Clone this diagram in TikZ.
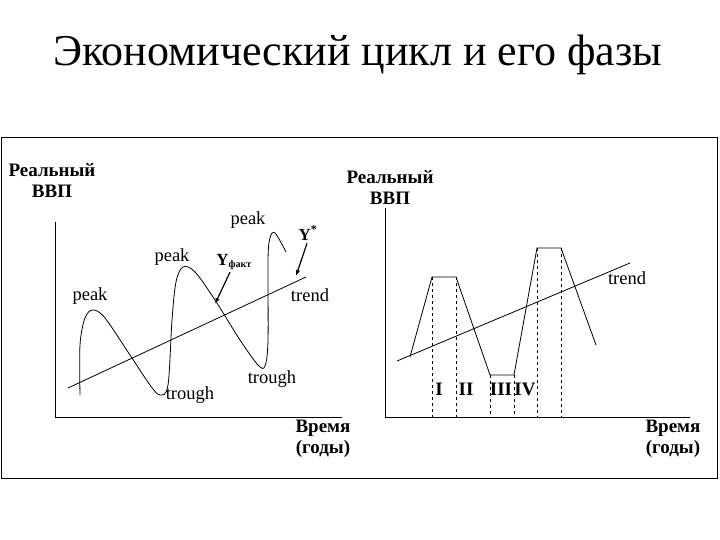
\documentclass[tikz,border=0pt]{standalone}
\usepackage{fontspec}
\usetikzlibrary{arrows.meta}
\setmainfont{Liberation Serif}
\begin{document}
\begin{tikzpicture}[x=1pt,y=-1pt,
  lbl/.style={font=\bfseries\fontsize{19}{21}\selectfont, inner sep=0pt, align=center},
  sm/.style={inner sep=0pt, font=\fontsize{18.5}{20}\selectfont},
  ln/.style={line width=0.8pt},
  dsh/.style={dashed, line width=0.6pt},
  arr/.style={line width=1.2pt,-{Latex[length=6pt]}}]
\useasboundingbox (0,0) rectangle (720,540);
\node[font=\fontsize{44}{48}\selectfont, inner sep=0pt] (title) at (358,55) {Экономический цикл и его фазы};
\draw[line width=1pt] (1,138) rectangle (717,478);
% left graph
\coordinate (lo) at (55,417);
\coordinate (ly) at (55,222);
\coordinate (lx) at (342,417);
\draw[ln] (ly) -- (lo) -- (lx);
\node[lbl] (lyl) at (52,180) {Реальный\\ВВП};
\node[lbl] (lxl) at (323,439) {Время\\(годы)};
\draw[ln] plot[smooth, tension=0.55] coordinates {(80,395) (80,345) (85,318) (93,310) (105,318) (130,355) (150,385) (160,395) (168,385) (172,320) (176,282) (183,267) (195,272) (215,300) (240,340) (258,365) (265,366) (268,340) (268,260) (270,238) (275,233) (286,252)};
\coordinate (lt1) at (68,388);
\coordinate (lt2) at (306,277);
\draw[ln] (lt1) -- (lt2);
\node[sm] (p1) at (90,296) {peak};
\node[sm] (p2) at (172,257) {peak};
\node[sm] (p3) at (248,220) {peak};
\node[sm] (t1) at (190,395) {trough};
\node[sm] (t2) at (272,379) {trough};
\node[sm] (tr1) at (310,295) {trend};
\node[lbl,font=\bfseries\fontsize{17}{19}\selectfont] (yf) at (234,262) {Y\textsubscript{\fontsize{10}{11}\selectfont факт}};
\node[lbl,font=\bfseries\fontsize{17}{19}\selectfont] (ys) at (308,233) {Y\textsuperscript{*}};
\coordinate (yfa) at (215,304);
\coordinate (ysa) at (296,276);
\draw[arr] (yf.south) ++(-4,2) -- (yfa);
\draw[arr] (ys.south) ++(-1,3) -- (ysa);
% right graph
\coordinate (ro) at (385,417);
\coordinate (ry) at (385,208);
\coordinate (rx) at (690,417);
\draw[ln] (ry) -- (ro) -- (rx);
\node[lbl] (ryl) at (390,187) {Реальный\\ВВП};
\node[lbl] (rxl) at (673,439) {Время\\(годы)};
\draw[ln] (410,357) -- (432,277) -- (456,277) -- (490,375) -- (514,375) -- (537,248) -- (561,248) -- (596,345);
\foreach \x/\y in {432/277,456/277,490/375,514/375,537/248,561/248} \draw[dsh] (\x,\y) -- (\x,417);
\coordinate (rt1) at (397,361);
\coordinate (rt2) at (630,263);
\draw[ln] (rt1) -- (rt2);
\node[sm] (tr2) at (627,278) {trend};
\node[lbl] (f1) at (439,389) {I};
\node[lbl] (f2) at (466,389) {II};
\node[lbl] (f3) at (501,389) {III};
\node[lbl] (f4) at (525,389) {IV};
\end{tikzpicture}
\end{document}
